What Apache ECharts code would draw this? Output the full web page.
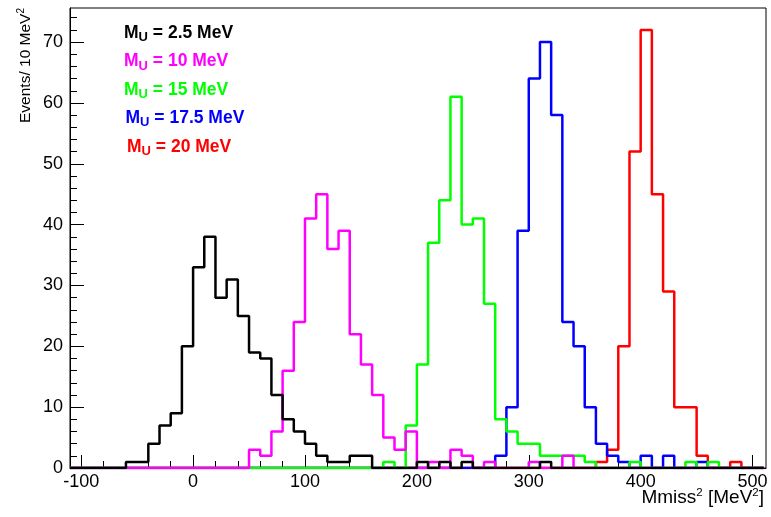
<!DOCTYPE html>
<html><head><meta charset="utf-8">
<script src="https://cdn.jsdelivr.net/npm/echarts@6/dist/echarts.min.js"></script>
<style>html,body{margin:0;padding:0;background:#fff}#c{width:771px;height:517px}</style>
</head><body><div id="c"></div>
<script>
// Bin lower edges (MeV^2), width 10
const binLowEdges = [-110,-100,-90,-80,-70,-60,-50,-40,-30,-20,-10,0,10,20,30,40,50,60,70,80,90,
  100,110,120,130,140,150,160,170,180,190,200,210,220,230,240,250,260,270,280,290,
  300,310,320,330,340,350,360,370,380,390,400,410,420,430,440,450,460,470,480,490,500];
const binWidth = 10;

const countsMU25 = [0,0,0,0,0, 1,1,4,7,9,20, 33,38,28,31,25,19,18,12,8,6,
  4,2,1,1,2,2,0,0,0,0, 1,0,1,0,1,0,0,0,0,0, 0,1,0,0,0,0,0,0,0,0, 0,0,0,0,0,0,0,0,0,0,0];
const countsMU10 = [0,0,0,0,0,0,0,0,0,0,0,0,0,0,0,0, 3,2,6,16,24,
  41,45,36,39,22,17,12,5,3,6, 0,1,0,3,2,0,1,0,0,0, 1,0,0,2,0,0,0,0,0,0, 0,0,0,0,0,0,0,0,0,0,0];
const countsMU15 = [0,0,0,0,0,0,0,0,0,0,0,0,0,0,0,0,0,0,0,0,0,0,0,0,0,0,0,0, 1,0,7,
  17,37,44,61,40,41,27,8,6,4, 4,2,2,2,2,1,0,0,0,1, 0,0,0,0,1,0,1,0,0,0,0];
const countsMU175 = [0,0,0,0,0,0,0,0,0,0,0,0,0,0,0,0,0,0,0,0,0,0,0,0,0,0,0,0,0,0,0,0,0,0,0,0,0,0, 2,10,39,
  64,70,58,24,20,10,4,2,1,0, 2,0,2,0,0,1,0,0,0,0,0];
const countsMU20 = [0,0,0,0,0,0,0,0,0,0,0,0,0,0,0,0,0,0,0,0,0,0,0,0,0,0,0,0,0,0,0,0,0,0,0,0,0,0,0,0,0,0,0,0,0,0,0, 1,3,20,52,
  72,45,29,10,10,2,0,0,1,0,0];

const xMajorTicks = [-100,0,100,200,300,400,500];
const xMinorTicks = [-100,-80,-60,-40,-20,0,20,40,60,80,100,120,140,160,180,200,220,240,260,280,300,320,340,360,380,400,420,440,460,480,500];
const yMajorTicks = [0,10,20,30,40,50,60,70];
const yMinorTicks = [0,2,4,6,8,10,12,14,16,18,20,22,24,26,28,30,32,34,36,38,40,42,44,46,48,50,52,54,56,58,60,62,64,66,68,70,72,74];

const legendLabels = [' = 2.5 MeV',' = 10 MeV',' = 15 MeV',' = 17.5 MeV',' = 20 MeV'];
const colors = ['#000000','#ff00ff','#00ff00','#0000ff','#ff0000'];
const allCounts = [countsMU25, countsMU10, countsMU15, countsMU175, countsMU20];

const FONT = "'Liberation Sans', Arial, Helvetica, sans-serif";

function histData(counts){
  const d = binLowEdges.map((e,i)=>[e, counts[i]]);
  d.push([binLowEdges[binLowEdges.length-1] + binWidth, 0]);
  return d;
}

// draw order: red first (bottom) ... black last (top)
const series = [];
for (let k = allCounts.length-1; k >= 0; k--) {
  series.push({
    type:'line', step:'end', showSymbol:false, symbol:'none', animation:false,
    xAxisIndex:0, yAxisIndex:0,
    data: histData(allCounts[k]),
    lineStyle:{color:colors[k], width:2.5},
    itemStyle:{color:colors[k]}
  });
}

const legendRowsY = [34, 62.5, 91, 119, 148];
const legendRowsX = [124, 124, 124, 125.5, 127];
const graphics = legendLabels.map((t,k)=>({
  type:'text', x:legendRowsX[k], y:legendRowsY[k]-10, silent:true,
  style:{
    text:'{a|M}{b|U}{a|' + t + '}',
    align:'left', verticalAlign:'top',
    rich:{
      a:{fontFamily:FONT, fontWeight:'bold', fontSize:17.5, lineHeight:20, verticalAlign:'top', fill:colors[k]},
      b:{fontFamily:FONT, fontWeight:'bold', fontSize:13, lineHeight:13, padding:[10,0,0,0], verticalAlign:'bottom', fill:colors[k]}
    }
  }
}));
graphics.push({
  type:'text', x:25, y:8, rotation:Math.PI/2, silent:true,
  style:{
    text:'{a|Events/ 10 MeV}{s|2}', align:'right', verticalAlign:'middle',
    rich:{
      a:{fontFamily:FONT, fontSize:15.5, lineHeight:18, verticalAlign:'bottom', fill:'#000'},
      s:{fontFamily:FONT, fontSize:10, lineHeight:18, verticalAlign:'top', padding:[0,0,6,0], fill:'#000'}
    }
  }
});
graphics.push({
  type:'text', x:764, y:497, silent:true,
  style:{
    text:'{a|Mmiss}{s|2}{a| [MeV}{s|2}{a|]}', align:'right', verticalAlign:'middle',
    rich:{
      a:{fontFamily:FONT, fontSize:19, lineHeight:20, verticalAlign:'bottom', fill:'#000'},
      s:{fontFamily:FONT, fontSize:11.5, lineHeight:20, verticalAlign:'top', padding:[0,0,7,0], fill:'#000'}
    }
  }
});

const chart = echarts.init(document.getElementById('c'), null, {renderer:'canvas'});
chart.setOption({
  animation:false,
  backgroundColor:'#ffffff',
  grid:{left:70, right:5, top:8, bottom:49, show:true, borderColor:'#000', borderWidth:1, backgroundColor:'transparent'},
  xAxis:[
    {type:'value', min:-110, max:512, position:'bottom',
     axisLine:{show:true, onZero:false, lineStyle:{color:'#000', width:1}},
     axisTick:{show:true, inside:true, length:13, customValues:xMajorTicks, lineStyle:{color:'#000'}},
     axisLabel:{show:true, customValues:xMajorTicks, fontSize:18, fontFamily:FONT, color:'#000', margin:5},
     splitLine:{show:false}},
    {type:'value', min:-110, max:512, position:'bottom',
     axisLine:{show:false, onZero:false},
     axisTick:{show:true, inside:true, length:7, customValues:xMinorTicks, lineStyle:{color:'#000'}},
     axisLabel:{show:false}, splitLine:{show:false}}
  ],
  yAxis:[
    {type:'value', min:0, max:75.6, position:'left',
     axisLine:{show:true, onZero:false, lineStyle:{color:'#000', width:1}},
     axisTick:{show:true, inside:true, length:14, customValues:yMajorTicks, lineStyle:{color:'#000'}},
     axisLabel:{show:true, customValues:yMajorTicks, fontSize:18, fontFamily:FONT, color:'#000', margin:7},
     splitLine:{show:false}},
    {type:'value', min:0, max:75.6, position:'left',
     axisLine:{show:false, onZero:false},
     axisTick:{show:true, inside:true, length:7, customValues:yMinorTicks, lineStyle:{color:'#000'}},
     axisLabel:{show:false}, splitLine:{show:false}}
  ],
  series: series,
  graphic: graphics
});
</script>
</body></html>
